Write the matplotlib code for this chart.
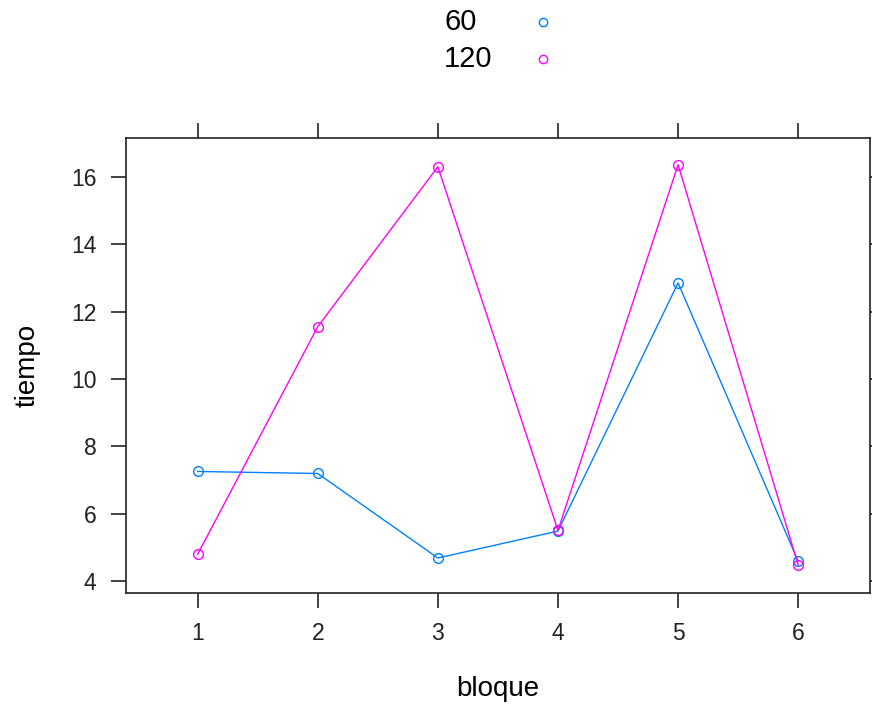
import numpy as np
import matplotlib.pyplot as plt

plt.rcParams['font.family'] = ['Liberation Sans', 'DejaVu Sans']

# datos
bloque = np.array([1, 2, 3, 4, 5, 6])
tiempo_60 = [7.25, 7.19, 4.68, 5.48, 12.85, 4.58]
tiempo_120 = [4.79, 11.55, 16.30, 5.50, 16.36, 4.47]
series = [("60", tiempo_60, "#0080ff"), ("120", tiempo_120, "#ff00ff")]

fig = plt.figure(figsize=(8.72, 7.09), dpi=100)
ax = fig.add_axes([0.144, 0.1636, 0.854, 0.642])

for nombre, valores, color in series:
    ax.plot(bloque, valores, color=color, lw=1.0, marker='o', ms=7,
            mfc='none', mec=color, mew=1.0)

ax.set_xlim(0.4, 6.6)
ax.set_ylim(3.64, 17.16)
ax.set_xticks(bloque)
ax.set_yticks([4, 6, 8, 10, 12, 14, 16])

ax.tick_params(direction='out', length=11, width=1.2, labelsize=16.5,
               top=True, right=True, pad=10, colors='#222222')
for s in ax.spines.values():
    s.set_linewidth(1.2)
    s.set_color('#222222')

ax.set_xlabel('bloque', fontsize=20, labelpad=22)
ax.set_ylabel('tiempo', fontsize=20, labelpad=22)

# leyenda arriba, estilo lattice
for i, (nombre, valores, color) in enumerate(series):
    y = 1 - (22 + 37 * i) / 709
    fig.text(444 / 872, y, nombre, fontsize=21, ha='left', va='center')
    fig.lines.append(plt.Line2D([543 / 872], [y], transform=fig.transFigure,
                                marker='o', ms=6, mfc='none', mec=color,
                                mew=1.0, ls='none'))

fig.savefig('out.png', dpi=100)
